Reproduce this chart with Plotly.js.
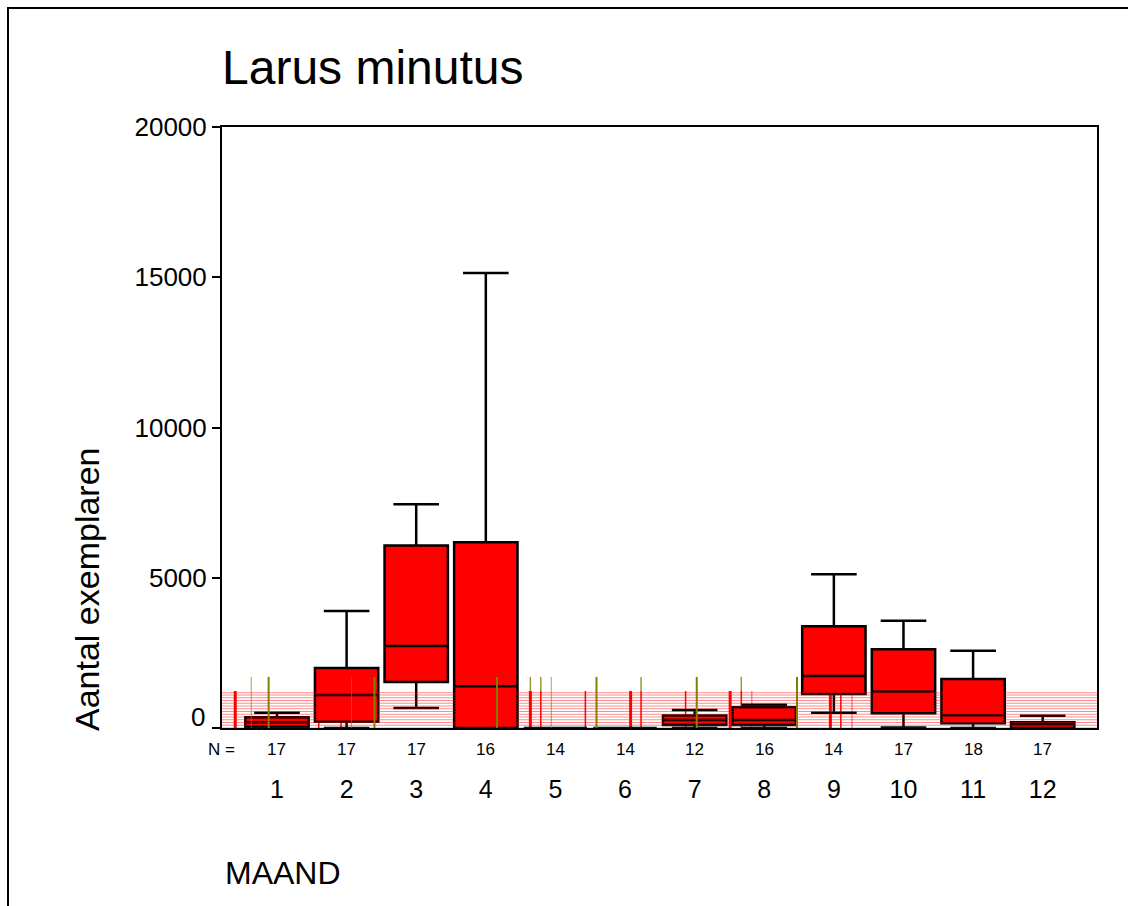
<!DOCTYPE html>
<html>
<head>
<meta charset="utf-8">
<script src="https://cdn.plot.ly/plotly-3.0.1.min.js"></script>
<style>
  html, body { margin: 0; padding: 0; background: #fff; }
  #frame { position: absolute; left: 7px; top: 7px; width: 1125px; height: 905px;
           border-top: 2px solid #000; border-left: 2px solid #000; }
  #chart { position: absolute; left: 0; top: 0; width: 1128px; height: 906px; }
</style>
</head>
<body>
<div id="frame"></div>
<div id="chart"></div>
<script>
// ---- data ----
const months      = [1, 2, 3, 4, 5, 6, 7, 8, 9, 10, 11, 12];
const nCounts     = [17, 17, 17, 16, 14, 14, 12, 16, 14, 17, 18, 17];
const lowerFence  = [0, 0, 665, 0, 0, 0, 0, 0, 510, 20, 0, 0];
const q1Values    = [43, 210, 1530, 0, 0, 0, 100, 100, 1131, 489, 156, 0];
const medianVals  = [190, 1100, 2730, 1390, 0, 0, 266, 266, 1730, 1210, 423, 123];
const q3Values    = [356, 2000, 6070, 6180, 0, 0, 416, 690, 3390, 2620, 1630, 190];
const upperFence  = [510, 3890, 7450, 15140, 0, 0, 600, 775, 5120, 3570, 2570, 410];
const yTickVals   = [0, 5000, 10000, 15000, 20000];
const yTickText   = ["", "5000", "10000", "15000", "20000"];

// rendering artefacts of the original picture (stripes and stray lines near zero)
const stripeLevels   = [0, 92, 183, 275, 366, 458, 549, 641, 732, 824, 915, 1007, 1098, 1175];
const redThickX      = [0.40, 4.64, 6.08, 7.51, 8.95];
const redThinX       = [1.60, 1.92, 4.79, 6.23, 7.67, 9.10, 5.43, 6.87];
const redFaintX      = [7.82, 9.26];
const oliveThickX    = [0.88, 4.16, 5.59, 7.03, 8.47, 2.40];
const oliveThinX     = [0.63, 2.07, 4.94];
const oliveTopX      = [4.64, 4.79, 6.23, 7.67];
const redTop = 1230, oliveTopLevel = 1700;

const boxTrace = {
  type: 'box',
  x: months,
  q1: q1Values,
  median: medianVals,
  q3: q3Values,
  lowerfence: lowerFence,
  upperfence: upperFence,
  width: 0.91,
  whiskerwidth: 0.72,
  fillcolor: '#ff0000',
  line: { color: '#000000', width: 2.5 },
  boxpoints: false,
  showlegend: false,
  hoverinfo: 'skip'
};

const shapes = [];
stripeLevels.forEach(v => shapes.push({
  type: 'line', xref: 'paper', yref: 'y', x0: 0, x1: 1, y0: v, y1: v,
  line: { color: 'rgba(255,0,0,0.45)', width: 1 }, layer: 'above'
}));
redThickX.forEach(x => shapes.push({
  type: 'line', xref: 'x', yref: 'y', x0: x, x1: x, y0: 0, y1: redTop,
  line: { color: '#ff0000', width: 3 }, layer: 'below'
}));
redThinX.forEach(x => shapes.push({
  type: 'line', xref: 'x', yref: 'y', x0: x, x1: x, y0: 0, y1: redTop,
  line: { color: '#ff0000', width: 1.5 }, layer: 'below'
}));
redFaintX.forEach(x => shapes.push({
  type: 'line', xref: 'x', yref: 'y', x0: x, x1: x, y0: 0, y1: redTop,
  line: { color: 'rgba(255,0,0,0.45)', width: 1.5 }, layer: 'below'
}));
oliveThickX.forEach(x => shapes.push({
  type: 'line', xref: 'x', yref: 'y', x0: x, x1: x, y0: 0, y1: oliveTopLevel,
  line: { color: '#808000', width: 2 }, layer: 'above'
}));
oliveThinX.forEach(x => shapes.push({
  type: 'line', xref: 'x', yref: 'y', x0: x, x1: x, y0: 0, y1: oliveTopLevel,
  line: { color: 'rgba(128,128,0,0.7)', width: 1 }, layer: 'above'
}));
oliveTopX.forEach(x => shapes.push({
  type: 'line', xref: 'x', yref: 'y', x0: x, x1: x, y0: redTop, y1: oliveTopLevel,
  line: { color: 'rgba(128,128,0,0.8)', width: 1.5 }, layer: 'above'
}));

const font = 'Arial, "Liberation Sans", Helvetica, sans-serif';
const annotations = [];
months.forEach((m, i) => annotations.push({
  x: m, xref: 'x', y: 0, yref: 'paper', yshift: -21, yanchor: 'middle', xanchor: 'center',
  text: String(nCounts[i]), showarrow: false, font: { family: font, size: 17, color: '#000' }
}));
annotations.push({
  x: 0.017, xref: 'paper', y: 0, yref: 'paper', yshift: -21, yanchor: 'middle', xanchor: 'right',
  text: 'N =', showarrow: false, font: { family: font, size: 17, color: '#000' }
});
annotations.push({
  x: 0, xref: 'paper', xshift: -15, y: 0, yref: 'y', yshift: 11, xanchor: 'right', yanchor: 'middle',
  text: '0', showarrow: false, font: { family: font, size: 26, color: '#000' }
});
annotations.push({
  x: 0, xref: 'paper', xshift: 1, y: 0, yref: 'paper', yshift: -145, xanchor: 'left', yanchor: 'middle',
  text: 'MAAND', showarrow: false, font: { family: font, size: 32, color: '#000' }
});
annotations.push({
  x: 0, xref: 'paper', xshift: -135, y: 0, yref: 'paper', yshift: 139, xanchor: 'center', yanchor: 'middle',
  textangle: -90,
  text: 'Aantal exemplaren', showarrow: false, font: { family: font, size: 34, color: '#000' }
});

const layout = {
  width: 1128, height: 906,
  margin: { l: 222, r: 31, t: 127, b: 178 },
  paper_bgcolor: 'rgba(0,0,0,0)',
  plot_bgcolor: '#ffffff',
  font: { family: font, color: '#000' },
  title: {
    text: 'Larus minutus', xref: 'container', yref: 'container',
    x: 222 / 1128, xanchor: 'left', y: 1 - 67 / 906, yanchor: 'middle',
    font: { family: font, size: 48, color: '#000' }
  },
  xaxis: {
    range: [0.21, 12.78],
    tickmode: 'array', tickvals: months, ticktext: months.map(String),
    ticks: '', showgrid: false, zeroline: false,
    showline: true, linecolor: '#000', linewidth: 2, mirror: true,
    ticklabelstandoff: 38,
    tickfont: { family: font, size: 25, color: '#000' }
  },
  yaxis: {
    range: [0, 20000],
    tickmode: 'array', tickvals: yTickVals, ticktext: yTickText,
    ticks: 'outside', ticklen: 8, tickwidth: 2, tickcolor: '#000',
    showgrid: false, zeroline: false,
    showline: true, linecolor: '#000', linewidth: 2, mirror: true,
    tickfont: { family: font, size: 26, color: '#000' }
  },
  shapes: shapes,
  annotations: annotations,
  showlegend: false
};

Plotly.newPlot('chart', [boxTrace], layout, { displayModeBar: false, staticPlot: true });
</script>
</body>
</html>
